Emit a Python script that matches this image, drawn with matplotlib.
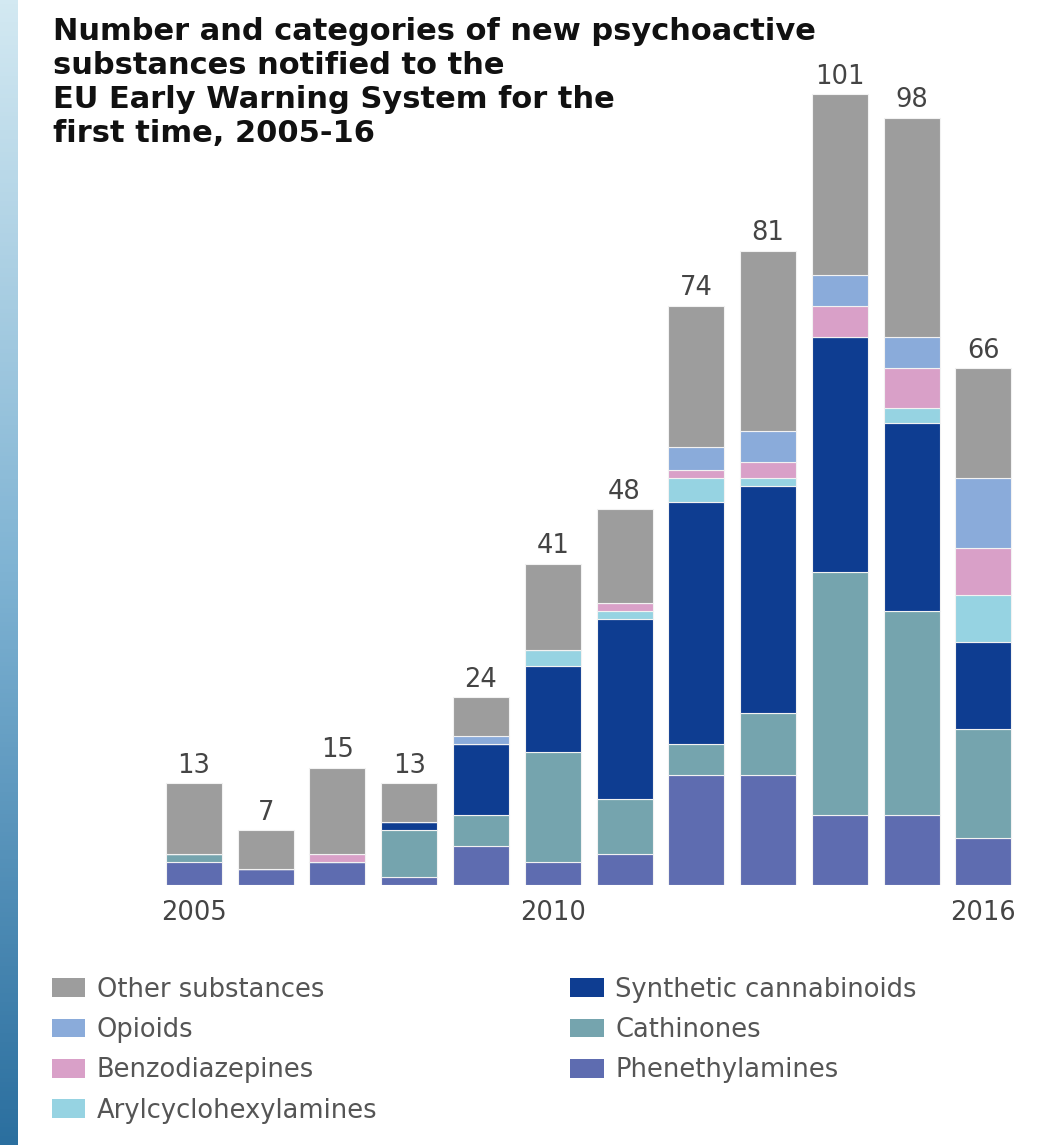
import numpy as np
import matplotlib
matplotlib.use("Agg")
import matplotlib.pyplot as plt
from matplotlib.patches import Patch

years = [2005, 2006, 2007, 2008, 2009, 2010, 2011, 2012, 2013, 2014, 2015, 2016]
tick_years = [2005, 2010, 2016]

# stacked from the bottom up
phenethylamines = [3, 2, 3, 1, 5, 3, 4, 14, 14, 9, 9, 6]
cathinones = [1, 0, 0, 6, 4, 14, 7, 4, 8, 31, 26, 14]
synth_cannabinoids = [0, 0, 0, 1, 9, 11, 23, 31, 29, 30, 24, 11]
arylcyclohexylamines = [0, 0, 0, 0, 0, 2, 1, 3, 1, 0, 2, 6]
benzodiazepines = [0, 0, 1, 0, 0, 0, 1, 1, 2, 4, 5, 6]
opioids = [0, 0, 0, 0, 1, 0, 0, 3, 4, 4, 4, 9]
other = [9, 5, 11, 5, 5, 11, 12, 18, 23, 23, 28, 14]

series = [
    ("Phenethylamines", phenethylamines, "#5e6cb0"),
    ("Cathinones", cathinones, "#75a4ae"),
    ("Synthetic cannabinoids", synth_cannabinoids, "#0e3d91"),
    ("Arylcyclohexylamines", arylcyclohexylamines, "#96d3e2"),
    ("Benzodiazepines", benzodiazepines, "#d9a0c8"),
    ("Opioids", opioids, "#8aabda"),
    ("Other substances", other, "#9d9d9d"),
]

fig = plt.figure(figsize=(10.4, 11.45), dpi=100)

# blue gradient strip on the left edge
strip = fig.add_axes([0, 0, 0.017, 1])
grad = np.linspace(0, 1, 256).reshape(-1, 1)
strip.imshow(grad, aspect="auto", cmap=matplotlib.colors.LinearSegmentedColormap.from_list(
    "strip", ["#d3e9f2", "#7fb3d3", "#2b6f9f"]))
strip.axis("off")

ax = fig.add_axes([0.152, 0.227, 0.828, 0.752])
x = np.arange(len(years))
bottom = np.zeros(len(years))
for name, vals, col in series:
    vals = np.array(vals, dtype=float)
    ax.bar(x, vals, bottom=bottom, width=0.78, color=col,
           edgecolor="#f2f2f2", linewidth=0.8)
    bottom += vals

totals = bottom
for xi, t in zip(x, totals):
    ax.text(xi, t + 0.6, f"{int(t)}", ha="center", va="bottom",
            fontsize=18.5, color="#444444")

ax.set_xlim(-0.5, len(years) - 0.5)
ax.set_ylim(0, 110)
ax.set_yticks([])
ax.set_xticks([years.index(y) for y in tick_years])
ax.set_xticklabels([str(y) for y in tick_years], fontsize=18.5, color="#444444")
ax.tick_params(axis="x", length=0, pad=11)
for s in ax.spines.values():
    s.set_visible(False)

fig.text(0.051, 0.985, "Number and categories of new psychoactive\n"
         "substances notified to the\n"
         "EU Early Warning System for the\n"
         "first time, 2005-16",
         ha="left", va="top", fontsize=22, fontweight="bold",
         color="#111111", linespacing=1.22)

order = ["Other substances", "Opioids", "Benzodiazepines", "Arylcyclohexylamines",
         "Synthetic cannabinoids", "Cathinones", "Phenethylamines"]
colors = {n: c for n, _, c in series}
handles = [Patch(facecolor=colors[n], edgecolor="none", label=n) for n in order]
fig.legend(handles=handles, ncol=2, loc="upper left",
           bbox_to_anchor=(0.04, 0.156), frameon=False, fontsize=18.5,
           labelcolor="#555555", handlelength=1.3, handleheight=0.75,
           handletextpad=0.45, columnspacing=7.5, labelspacing=0.56,
           borderaxespad=0)

fig.savefig("out.png", dpi=100)
